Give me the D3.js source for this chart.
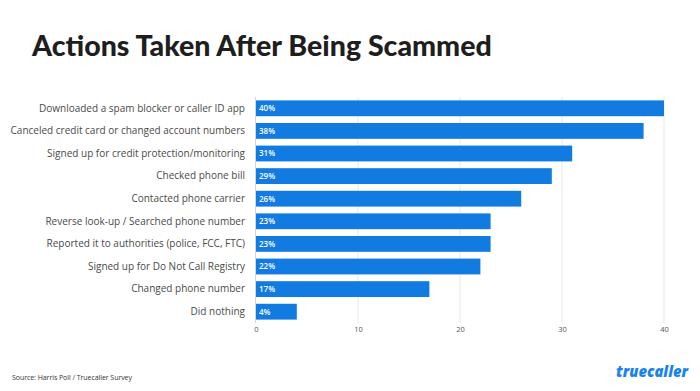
<!DOCTYPE html>
<html><head><meta charset="utf-8">
<script src="https://cdn.jsdelivr.net/npm/d3@7"></script>
<style>html,body{margin:0;padding:0;background:#fff;}</style>
</head><body>
<svg id="c" width="700" height="391"></svg>
<script>
const categories = [
  "Downloaded a spam blocker or caller ID app",
  "Canceled credit card or changed account numbers",
  "Signed up for credit protection/monitoring",
  "Checked phone bill",
  "Contacted phone carrier",
  "Reverse look-up / Searched phone number",
  "Reported it to authorities (police, FCC, FTC)",
  "Signed up for Do Not Call Registry",
  "Changed phone number",
  "Did nothing"
];
const values = [40, 38, 31, 29, 26, 23, 23, 22, 17, 4];
const tickValues = [0, 10, 20, 30, 40];
const titleText = "Actions Taken After Being Scammed";
const sourceText = "Source: Harris Poll / Truecaller Survey";
const logoText = "truecaller";

const svg = d3.select("#c");
const x = d3.scaleLinear().domain([0, 40]).range([256, 664]);
const y = d3.scaleBand().domain(categories).range([97, 323]).paddingInner(0.3).paddingOuter(0.15);

// title
const t = svg.append("text").attr("x", 32).attr("y", 56)
  .attr("font-family", "Lato, sans-serif").attr("font-weight", 900)
  .attr("font-size", 26).attr("fill", "#1e1e1e").text(titleText);
const tw = t.node().getComputedTextLength();
t.attr("font-size", 26 * 460 / tw);

// grid
svg.append("g").selectAll("line").data(tickValues.slice(1)).join("line")
  .attr("x1", d => x(d)).attr("x2", d => x(d)).attr("y1", 97).attr("y2", 323)
  .attr("stroke", "#e8e8e8").attr("stroke-width", 1);

// x axis tick labels
const xa = svg.append("g").attr("transform", "translate(0,323)")
  .call(d3.axisBottom(x).tickValues(tickValues).tickSize(0).tickPadding(4));
xa.select(".domain").remove();
xa.selectAll("text").attr("font-family", "'Open Sans', sans-serif")
  .attr("font-size", 7.5).attr("fill", "#555");

// bars
svg.append("g").selectAll("rect").data(values).join("rect")
  .attr("x", x(0)).attr("y", (d, i) => y(categories[i]))
  .attr("width", d => x(d) - x(0)).attr("height", y.bandwidth())
  .attr("fill", "#117be1");

// axis line
svg.append("line").attr("x1", 255.5).attr("x2", 255.5).attr("y1", 97).attr("y2", 323)
  .attr("stroke", "#d6d6d6");

// value labels
svg.append("g").selectAll("text").data(values).join("text")
  .attr("x", x(0) + 3).attr("y", (d, i) => y(categories[i]) + y.bandwidth() / 2)
  .attr("dy", "0.35em").attr("font-family", "'Open Sans', sans-serif")
  .attr("font-size", 8).attr("font-weight", 600).attr("fill", "#fff")
  .text(d => d + "%");

// category labels
const ya = svg.append("g").attr("transform", "translate(256,0)")
  .call(d3.axisLeft(y).tickSize(0).tickPadding(11));
ya.select(".domain").remove();
ya.selectAll("text").attr("font-family", "'Open Sans', sans-serif")
  .attr("font-size", 10).attr("fill", "#4a4a4a");

// source
svg.append("text").attr("x", 12).attr("y", 380)
  .attr("font-family", "'Liberation Sans Narrow', 'Open Sans', sans-serif")
  .attr("font-size", 7).attr("fill", "#333").attr("textLength", 120).text(sourceText);

// logo
svg.append("text").attr("x", 616).attr("y", 377)
  .attr("font-family", "'Open Sans', sans-serif").attr("font-weight", 800)
  .attr("font-style", "italic").attr("font-size", 16).attr("fill", "#1a82ee")
  .attr("textLength", 72).attr("lengthAdjust", "spacingAndGlyphs").text(logoText);
</script>
</body></html>
